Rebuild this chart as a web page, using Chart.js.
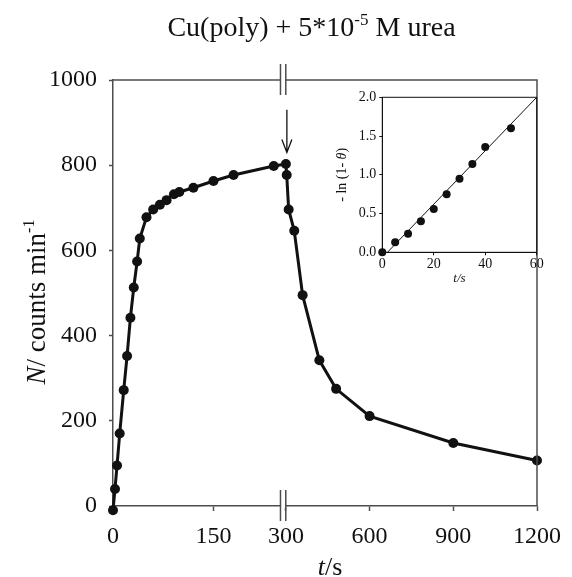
<!DOCTYPE html>
<html>
<head>
<meta charset="utf-8">
<script src="https://cdn.jsdelivr.net/npm/chart.js@4.4.1/dist/chart.umd.min.js"></script>
<style>
  html, body { margin: 0; padding: 0; background: #fff; }
  #wrap { position: relative; width: 572px; height: 577px; }
  #mainChart { position: absolute; left: 0; top: 0; }
  #insetChart { position: absolute; left: 320px; top: 85px; }
</style>
</head>
<body>
<div id="wrap">
  <canvas id="mainChart" width="572" height="577"></canvas>
  <canvas id="insetChart" width="230" height="205"></canvas>
</div>
<script>
// adsorption part (left block of the broken time axis)
const riseTime = [0, 3, 6, 10, 16, 21, 26, 31, 36, 40, 50, 60, 70, 80, 91, 99, 120, 150, 180, 240];
const riseCounts = [-10, 40, 95, 170, 272, 352, 442, 513, 574, 628, 678, 696, 707, 718, 732, 737, 747, 763, 777, 798];
// desorption part (right block)
const decayTime = [300, 303, 310, 330, 360, 420, 480, 600, 900, 1200];
const decayCounts = [803, 777, 696, 646, 495, 342, 275, 211, 148, 107];

const leftTicks = [0, 150];
const rightTicks = [300, 600, 900, 1200];
const countTicks = [0, 200, 400, 600, 800, 1000];

// arrow marking the start of the exchange (counts scale)
const arrowFrom = 930;
const arrowTo = 830;

// inset: -ln(1-theta) vs t
const insetTime = [0, 5, 10, 15, 20, 25, 30, 35, 40, 50];
const insetValue = [0, 0.13, 0.24, 0.40, 0.56, 0.75, 0.95, 1.14, 1.36, 1.60];
const fitTime = [2, 60];
const fitValue = [0, 2.0];
const insetXTicks = [0, 20, 40, 60];
const insetYTicks = [0, 0.5, 1.0, 1.5, 2.0];

const serif = "'Liberation Serif', 'Times New Roman', serif";
const frameColor = '#4d4d4d';
const ink = '#111';

const toXY = (xs, ys) => xs.map((x, i) => ({ x, y: ys[i] }));
const fixTicks = values => scale => { scale.ticks = values.map(v => ({ value: v })); };

// draws a run of [text, font, raise] pieces starting at x
function drawRuns(ctx, runs, x, y) {
  runs.forEach(([text, font, raise]) => {
    ctx.font = font;
    ctx.fillText(text, x, y - (raise || 0));
    x += ctx.measureText(text).width;
  });
}
function runsWidth(ctx, runs) {
  return runs.reduce((w, [text, font]) => { ctx.font = font; return w + ctx.measureText(text).width; }, 0);
}

const mainDecor = {
  id: 'mainDecor',
  beforeDatasetsDraw(chart) {
    // line across the axis break
    const ctx = chart.ctx;
    const a = chart.getDatasetMeta(0).data.at(-1);
    const b = chart.getDatasetMeta(1).data[0];
    ctx.save();
    ctx.strokeStyle = ink;
    ctx.lineWidth = 3;
    ctx.beginPath();
    ctx.moveTo(a.x, a.y);
    ctx.lineTo(b.x, b.y);
    ctx.stroke();
    ctx.restore();
  },
  afterDraw(chart) {
    const { ctx, chartArea: area, scales } = chart;
    ctx.save();

    // top and right side of the frame
    ctx.strokeStyle = frameColor;
    ctx.lineWidth = 1.5;
    ctx.beginPath();
    ctx.moveTo(area.left, area.top);
    ctx.lineTo(area.right, area.top);
    ctx.lineTo(area.right, area.bottom);
    ctx.stroke();

    // axis break marks
    const bx = scales.xRight.left;
    [area.top, area.bottom].forEach(yy => {
      ctx.fillStyle = '#fff';
      ctx.fillRect(bx - 4, yy - 2, 5.3, 4);
      ctx.beginPath();
      ctx.moveTo(bx - 4, yy - 16); ctx.lineTo(bx - 4, yy + 15);
      ctx.moveTo(bx + 1.3, yy - 16); ctx.lineTo(bx + 1.3, yy + 15);
      ctx.stroke();
    });

    // arrow
    const ax = scales.xRight.getPixelForValue(decayTime[0]) + 1;
    const y0 = scales.y.getPixelForValue(arrowFrom);
    const y1 = scales.y.getPixelForValue(arrowTo);
    ctx.strokeStyle = ink;
    ctx.lineWidth = 1.3;
    ctx.beginPath();
    ctx.moveTo(ax, y0); ctx.lineTo(ax, y1);
    ctx.moveTo(ax - 5, y1 - 13); ctx.lineTo(ax, y1); ctx.lineTo(ax + 5, y1 - 13);
    ctx.stroke();

    // titles
    ctx.fillStyle = ink;
    ctx.textBaseline = 'alphabetic';

    const tf = `28px ${serif}`, tsup = `17px ${serif}`;
    const title = [['Cu(poly) + 5*10', tf], ['-5', tsup, 11], [' M urea', tf]];
    drawRuns(ctx, title, 311.5 - runsWidth(ctx, title) / 2, 36);

    const af = `26px ${serif}`, afIt = `italic 26px ${serif}`, asup = `16px ${serif}`;
    const xTitle = [['t', afIt], ['/s', af]];
    drawRuns(ctx, xTitle, 330 - runsWidth(ctx, xTitle) / 2, 575);

    const yf = `27px ${serif}`, yfIt = `italic 27px ${serif}`;
    const yTitle = [['N', yfIt], ['/ counts min', yf], ['-1', asup, 11]];
    ctx.translate(45, 302);
    ctx.rotate(-Math.PI / 2);
    drawRuns(ctx, yTitle, -runsWidth(ctx, yTitle) / 2, 0);
    ctx.restore();
  }
};

const xCommon = {
  type: 'linear',
  position: 'bottom',
  stack: 'time',
  afterFit: s => { s.height = 71; },
  grid: { drawOnChartArea: false, tickLength: 5, tickColor: frameColor, tickWidth: 1.5 },
  border: { color: frameColor, width: 1.5 },
  ticks: { font: { family: serif, size: 24 }, color: ink, padding: 11, maxRotation: 0, callback: v => String(v) }
};

new Chart(document.getElementById('mainChart'), {
  type: 'line',
  data: {
    datasets: [
      { data: toXY(riseTime, riseCounts), xAxisID: 'xLeft', yAxisID: 'y' },
      { data: toXY(decayTime, decayCounts), xAxisID: 'xRight', yAxisID: 'y' }
    ]
  },
  options: {
    responsive: false,
    animation: false,
    clip: false,
    layout: { padding: { top: 80, right: 26.3, left: 0, bottom: 0 } },
    elements: {
      line: { borderColor: ink, borderWidth: 3, tension: 0 },
      point: { radius: 5, backgroundColor: ink, borderColor: ink, borderWidth: 0 }
    },
    plugins: { legend: { display: false }, tooltip: { enabled: false } },
    scales: {
      xLeft: { ...xCommon, stackWeight: 175, min: 0, max: 256, afterBuildTicks: fixTicks(leftTicks) },
      xRight: { ...xCommon, stackWeight: 257.7, min: 295, max: 1200, afterBuildTicks: fixTicks(rightTicks) },
      y: {
        type: 'linear',
        position: 'left',
        min: 0,
        max: 1000,
        afterFit: s => { s.width = 113; },
        afterBuildTicks: fixTicks(countTicks),
        grid: { drawOnChartArea: false, tickLength: 4, tickColor: frameColor, tickWidth: 1.5 },
        border: { color: frameColor, width: 1.5 },
        ticks: { font: { family: serif, size: 24 }, color: ink, padding: 12, callback: v => String(v) }
      }
    }
  },
  plugins: [mainDecor]
});

const insetDecor = {
  id: 'insetDecor',
  afterDraw(chart) {
    const { ctx, chartArea: area } = chart;
    ctx.save();
    ctx.strokeStyle = ink;
    ctx.lineWidth = 1;
    ctx.strokeRect(area.left, area.top, area.right - area.left, area.bottom - area.top);

    ctx.fillStyle = ink;
    ctx.textBaseline = 'alphabetic';
    const f = `14px ${serif}`, fi = `italic 14px ${serif}`;
    const xTitle = [['t/s', `italic 13px ${serif}`]];
    drawRuns(ctx, xTitle, (area.left + area.right) / 2 - runsWidth(ctx, xTitle) / 2, 197);

    const yTitle = [['- ln (1- ', f], ['\u03B8', fi], [')', f]];
    ctx.translate(26, (area.top + area.bottom) / 2);
    ctx.rotate(-Math.PI / 2);
    drawRuns(ctx, yTitle, -runsWidth(ctx, yTitle) / 2, 0);
    ctx.restore();
  }
};

new Chart(document.getElementById('insetChart'), {
  type: 'scatter',
  data: {
    datasets: [
      { data: toXY(fitTime, fitValue), showLine: true, borderColor: ink, borderWidth: 1, pointRadius: 0 },
      { data: toXY(insetTime, insetValue), pointRadius: 4, backgroundColor: ink, borderWidth: 0 }
    ]
  },
  options: {
    responsive: false,
    animation: false,
    clip: false,
    layout: { padding: { top: 12.3, right: 13.3, left: 0, bottom: 0 } },
    plugins: { legend: { display: false }, tooltip: { enabled: false } },
    scales: {
      x: {
        type: 'linear', min: 0, max: 60,
        afterBuildTicks: fixTicks(insetXTicks),
        afterFit: s => { s.height = 37.7; },
        grid: { drawOnChartArea: false, tickLength: 3, tickColor: ink },
        border: { color: ink, width: 1 },
        ticks: { font: { family: serif, size: 14 }, color: ink, padding: 1, maxRotation: 0 }
      },
      y: {
        type: 'linear', min: 0, max: 2,
        afterBuildTicks: fixTicks(insetYTicks),
        afterFit: s => { s.width = 62.3; },
        grid: { drawOnChartArea: false, tickLength: 3, tickColor: ink },
        border: { color: ink, width: 1 },
        ticks: { font: { family: serif, size: 14 }, color: ink, padding: 3, callback: v => v.toFixed(1) }
      }
    }
  },
  plugins: [insetDecor]
});
</script>
</body>
</html>
